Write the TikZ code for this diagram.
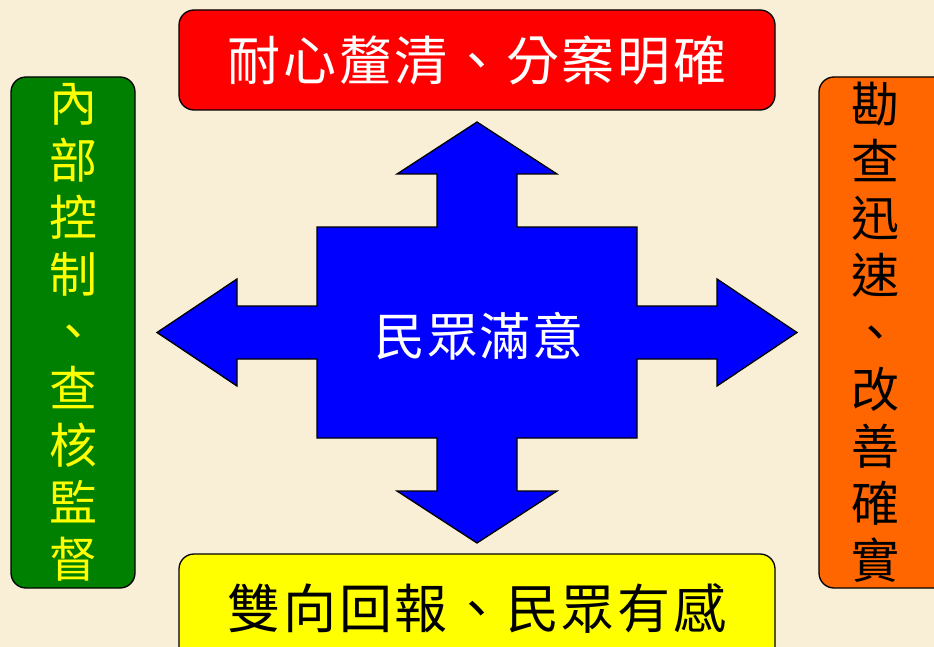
\documentclass[tikz,border=0pt]{standalone}
\usepackage{fontspec}
\newfontfamily\cjk{Noto Sans CJK TC}
\newfontfamily\cjkwide[LetterSpace=5]{Noto Sans CJK TC}
\newfontfamily\cjkmid[LetterSpace=3]{Noto Sans CJK TC}

\definecolor{paperColor}{RGB}{249,239,214}
\definecolor{topColor}{RGB}{255,0,0}
\definecolor{leftColor}{RGB}{0,128,0}
\definecolor{rightColor}{RGB}{255,102,0}
\definecolor{bottomColor}{RGB}{255,255,0}
\definecolor{crossColor}{RGB}{0,0,255}

\tikzset{
  goalbox/.style={draw=black, line width=1.3pt, rounded corners=15pt, inner sep=0pt},
  wide/.style={goalbox, minimum width=596pt, minimum height=100pt,
    font=\cjkwide\fontsize{53}{60}\selectfont},
  tall/.style={goalbox, minimum height=511pt, align=center,
    font=\cjk\fontsize{48}{57}\selectfont}
}

\begin{document}
\begin{tikzpicture}[x=1pt,y=-1pt]
  \useasboundingbox (0,0) rectangle (934,647);
  \clip (0,0) rectangle (934,647);
  \fill[paperColor] (0,0) rectangle (934,647);
  % Boxes
  \node[wide, fill=topColor, text=white] (clarify) at (477,60) {耐心釐清、分案明確};
  \node[wide, fill=bottomColor, text=black, minimum height=108pt] (report) at (477,608) {雙向回報、民眾有感};
  \node[tall, fill=leftColor, text=bottomColor, minimum width=124pt] (control) at (73,332.5)
    {內\\部\\控\\制\\、\\查\\核\\監\\督};
  \node[tall, fill=rightColor, text=black, minimum width=140pt] (survey) at (889,332.5) {};
  \node[align=center, font=\cjk\fontsize{48}{57}\selectfont] (surveytext) at (875,332.5)
    {勘\\查\\迅\\速\\、\\改\\善\\確\\實};
  % Cross
  \draw[fill=crossColor, line width=1.3pt, line join=miter]
    (477,122) -- (557,174) -- (517,174) -- (517,227) -- (637,227) -- (637,306)
    -- (717,306) -- (717,279) -- (797,332.5) -- (717,386) -- (717,359) -- (637,359)
    -- (637,438) -- (517,438) -- (517,491) -- (557,491) -- (477,543) -- (397,491)
    -- (437,491) -- (437,438) -- (317,438) -- (317,359) -- (237,359) -- (237,386)
    -- (157,332.5) -- (237,279) -- (237,306) -- (317,306) -- (317,227) -- (437,227)
    -- (437,174) -- (397,174) -- cycle;
  \node[text=white, font=\cjkmid\fontsize{51}{58}\selectfont] (hub) at (479,336) {民眾滿意};
\end{tikzpicture}
\end{document}
